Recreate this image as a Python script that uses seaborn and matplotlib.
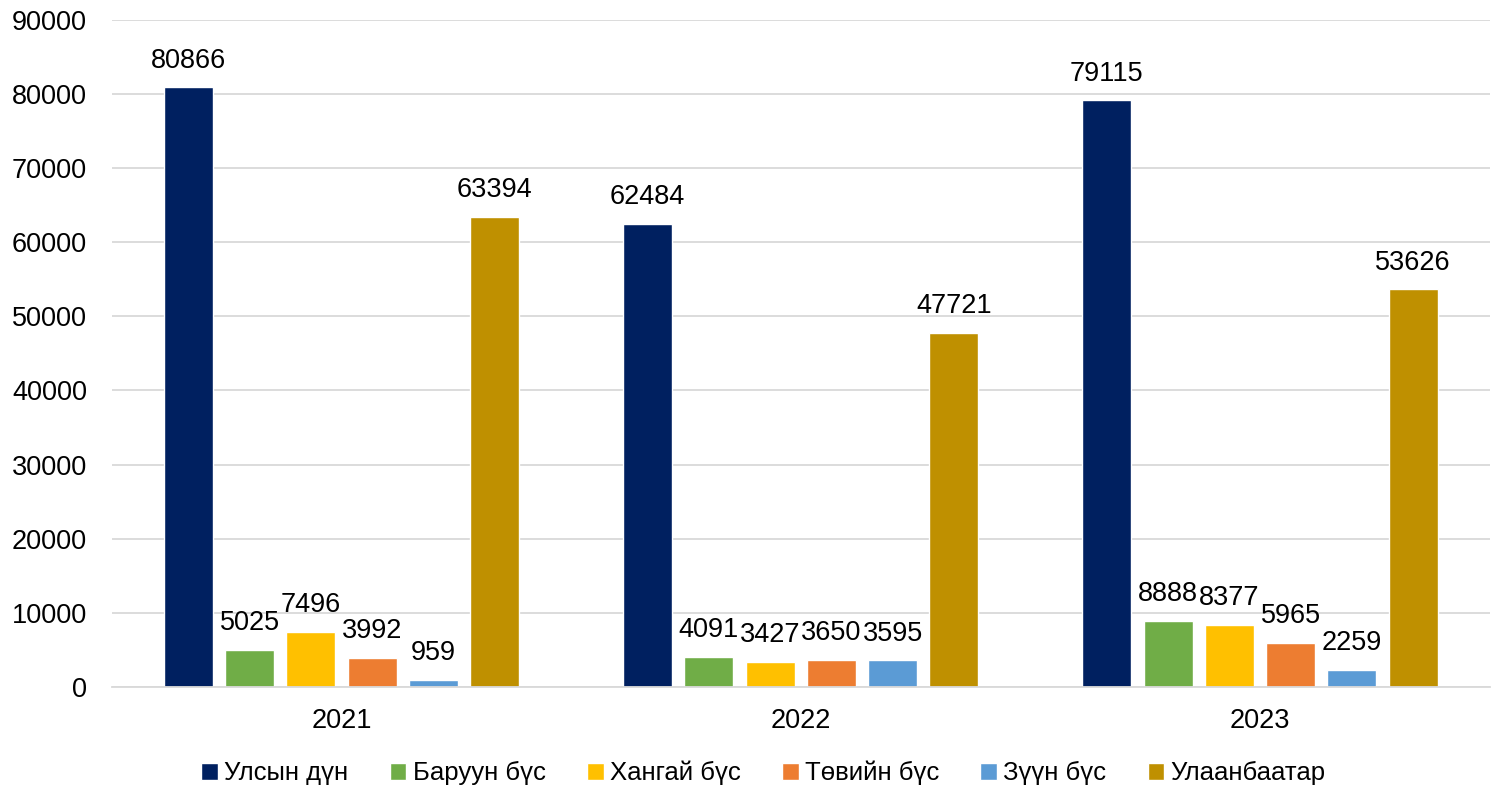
import matplotlib
matplotlib.use("Agg")
import matplotlib.pyplot as plt
import seaborn as sns
import pandas as pd

years = ["2021", "2022", "2023"]
regions = ["Улсын дүн", "Баруун бүс", "Хангай бүс", "Төвийн бүс", "Зүүн бүс", "Улаанбаатар"]
ulsyn = [80866, 62484, 79115]
baruun = [5025, 4091, 8888]
khangai = [7496, 3427, 8377]
tuv = [3992, 3650, 5965]
zuun = [959, 3595, 2259]
ub = [63394, 47721, 53626]
colors = ["#002060", "#70AD47", "#FFC000", "#ED7D31", "#5B9BD5", "#BF9000"]

series = [ulsyn, baruun, khangai, tuv, zuun, ub]
rows = []
for reg, vals in zip(regions, series):
    for y, v in zip(years, vals):
        rows.append({"year": y, "region": reg, "value": v})
df = pd.DataFrame(rows)

sns.set_theme(style="white")
plt.rcParams["font.family"] = ["Liberation Sans", "DejaVu Sans"]

fig = plt.figure(figsize=(14.99, 7.88), dpi=100)
ax = fig.add_axes([0.0747, 0.128, 0.919, 0.847])
sns.barplot(data=df, x="year", y="value", hue="region", order=years, hue_order=regions,
            palette=colors, width=0.8, gap=0.2, ax=ax, legend=True, saturation=1)

for cont in ax.containers:
    ax.bar_label(cont, fmt="%d", padding=10, fontsize=19.5, color="#000000")

ax.set_ylim(0, 90000)
ax.set_yticks(range(0, 90001, 10000))
ax.set_xlim(-0.5, 2.5)
ax.yaxis.grid(True, color="#D9D9D9", linewidth=1.3)
ax.set_axisbelow(True)
for s in ["left", "right", "top"]:
    ax.spines[s].set_visible(False)
ax.spines["bottom"].set_color("#D9D9D9")
ax.spines["bottom"].set_linewidth(1.3)
ax.tick_params(axis="both", labelsize=19.5, colors="#000000", length=0)
ax.tick_params(axis="y", pad=18)
ax.tick_params(axis="x", pad=15)
ax.set_xlabel("")
ax.set_ylabel("")

leg = ax.legend(loc="center", bbox_to_anchor=(0.473, -0.129), ncol=6, frameon=False,
                fontsize=18.5, handlelength=0.65, handleheight=0.65, handletextpad=0.25,
                columnspacing=1.6, labelcolor="#000000")
fig.savefig("out.png", dpi=100)
